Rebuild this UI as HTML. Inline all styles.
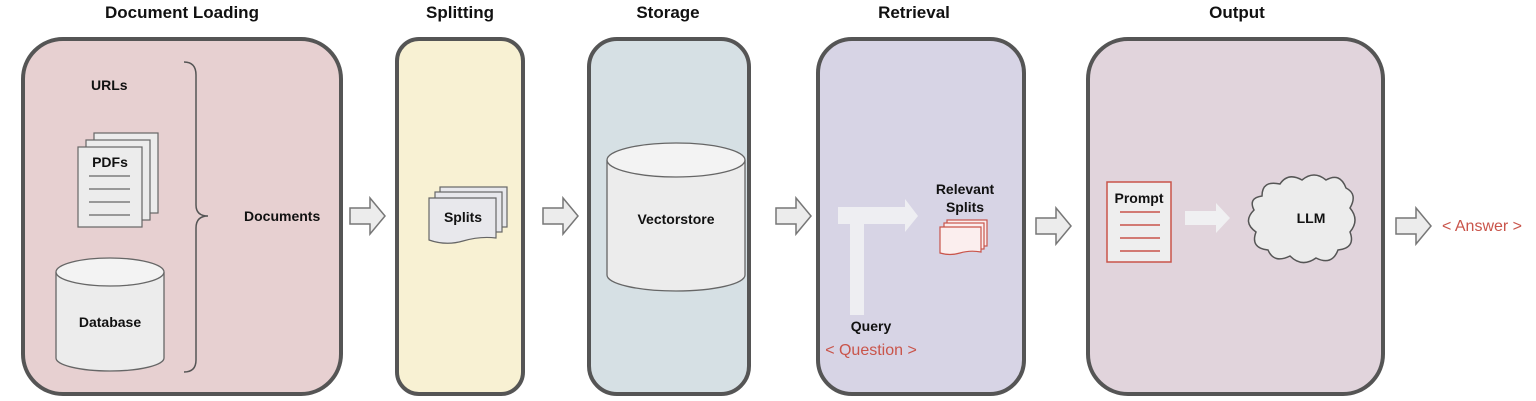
<!DOCTYPE html>
<html><head><meta charset="utf-8"><style>
html,body{margin:0;padding:0;background:#fff;width:1536px;height:401px;overflow:hidden}
svg text{font-family:"Liberation Sans",Arial,sans-serif}
</style></head><body>
<svg width="1536" height="401" viewBox="0 0 1536 401" xmlns="http://www.w3.org/2000/svg">
<defs>
<g id="blk"><path d="M0,-8 H20 V-18 L35,0 L20,18 V8 H0 Z" fill="#ececec" stroke="#777" stroke-width="1.5"/></g>
</defs>
<g font-weight="bold" font-size="17" fill="#111" text-anchor="middle">
<text x="182" y="18">Document Loading</text>
<text x="460" y="18">Splitting</text>
<text x="668" y="18">Storage</text>
<text x="914" y="18">Retrieval</text>
<text x="1237" y="18">Output</text>
</g>
<g stroke="#555" stroke-width="4">
<rect x="23" y="39" width="318" height="355" rx="40" fill="#e7d0d1"/>
<rect x="397" y="39" width="126" height="355" rx="22" fill="#f8f1d3"/>
<rect x="589" y="39" width="160" height="355" rx="28" fill="#d6e0e4"/>
<rect x="818" y="39" width="206" height="355" rx="34" fill="#d7d4e5"/>
<rect x="1088" y="39" width="295" height="355" rx="40" fill="#e1d4dc"/>
</g>
<use href="#blk" x="350" y="216"/>
<use href="#blk" x="543" y="216"/>
<use href="#blk" x="776" y="216"/>
<use href="#blk" x="1036" y="226"/>
<use href="#blk" x="1396" y="226"/>
<g font-weight="bold" font-size="14" fill="#111">
<text x="91" y="90">URLs</text>
<text x="244" y="221">Documents</text>
</g>
<g fill="#ececec" stroke="#666" stroke-width="1.2">
<rect x="94" y="133" width="64" height="80"/>
<rect x="86" y="140" width="64" height="80"/>
<rect x="78" y="147" width="64" height="80"/>
</g>
<text x="110" y="167" font-weight="bold" font-size="14" text-anchor="middle" fill="#111">PDFs</text>
<g stroke="#666" stroke-width="1.3">
<line x1="89" y1="176" x2="130" y2="176"/><line x1="89" y1="189" x2="130" y2="189"/>
<line x1="89" y1="202" x2="130" y2="202"/><line x1="89" y1="215" x2="130" y2="215"/>
</g>
<path d="M56,272 V358 A54,13 0 0 0 164,358 V272" fill="#ececec" stroke="#666" stroke-width="1.3"/>
<ellipse cx="110" cy="272" rx="54" ry="14" fill="#f3f3f3" stroke="#666" stroke-width="1.3"/>
<text x="110" y="327" font-weight="bold" font-size="14" text-anchor="middle" fill="#111">Database</text>
<path d="M184,62 Q196,62 196,75 V205 Q196,216 208,216 Q196,216 196,228 V360 Q196,372 184,372" fill="none" stroke="#555" stroke-width="1.5"/>
<g fill="#e8e8ec" stroke="#666" stroke-width="1.2">
<rect x="440" y="187" width="67" height="40"/>
<rect x="435" y="192" width="67" height="40"/>
<path d="M429,198 H496 V238 Q480,236 463,241 Q446,246 429,240 Z"/>
</g>
<text x="463" y="222" font-weight="bold" font-size="14" text-anchor="middle" fill="#111">Splits</text>
<path d="M607,160 V275 A69,16 0 0 0 745,275 V160" fill="#ececec" stroke="#666" stroke-width="1.3"/>
<ellipse cx="676" cy="160" rx="69" ry="17" fill="#f3f3f3" stroke="#666" stroke-width="1.3"/>
<text x="676" y="224" font-weight="bold" font-size="14" text-anchor="middle" fill="#111">Vectorstore</text>
<path d="M838,207 H905 V199 L918,216 L905,232 V224 H864 V315 H850 V224 H838 Z" fill="#eeeef2"/>
<text x="965" y="194" font-weight="bold" font-size="14" text-anchor="middle" fill="#111">Relevant</text>
<text x="965" y="212" font-weight="bold" font-size="14" text-anchor="middle" fill="#111">Splits</text>
<g fill="#fbeeee" stroke="#c9544a" stroke-width="1.2">
<rect x="947" y="220" width="40" height="26"/>
<rect x="944" y="223" width="40" height="26"/>
<path d="M940,227 H981 V252 Q970,250 960,253 Q950,256 940,253 Z"/>
</g>
<text x="871" y="331" font-weight="bold" font-size="14" text-anchor="middle" fill="#111">Query</text>
<text x="871" y="355" font-size="16" text-anchor="middle" fill="#c9544a">&lt; Question &gt;</text>
<rect x="1107" y="182" width="64" height="80" fill="#eeeeee" stroke="#c9544a" stroke-width="1.5"/>
<text x="1139" y="203" font-weight="bold" font-size="14" text-anchor="middle" fill="#111">Prompt</text>
<g stroke="#c9544a" stroke-width="1.5">
<line x1="1120" y1="212" x2="1160" y2="212"/><line x1="1120" y1="225" x2="1160" y2="225"/>
<line x1="1120" y1="238" x2="1160" y2="238"/><line x1="1120" y1="251" x2="1160" y2="251"/>
</g>
<path d="M1185,211 H1216 V203 L1230,218 L1216,233 V225 H1185 Z" fill="#f0f0f2"/>
<path d="M1262,196 Q1262,180 1280,184 Q1288,172 1302,180 Q1314,170 1326,180 Q1340,172 1346,188 Q1358,194 1350,208 Q1360,220 1350,232 Q1356,248 1338,250 Q1332,266 1316,258 Q1302,268 1290,256 Q1274,264 1268,250 Q1250,248 1256,232 Q1242,222 1254,210 Q1248,198 1262,196 Z" fill="#ececec" stroke="#555" stroke-width="1.5"/>
<text x="1311" y="223" font-weight="bold" font-size="14" text-anchor="middle" fill="#111">LLM</text>
<text x="1482" y="231" font-size="16" text-anchor="middle" fill="#c9544a">&lt; Answer &gt;</text>
</svg>
</body></html>
